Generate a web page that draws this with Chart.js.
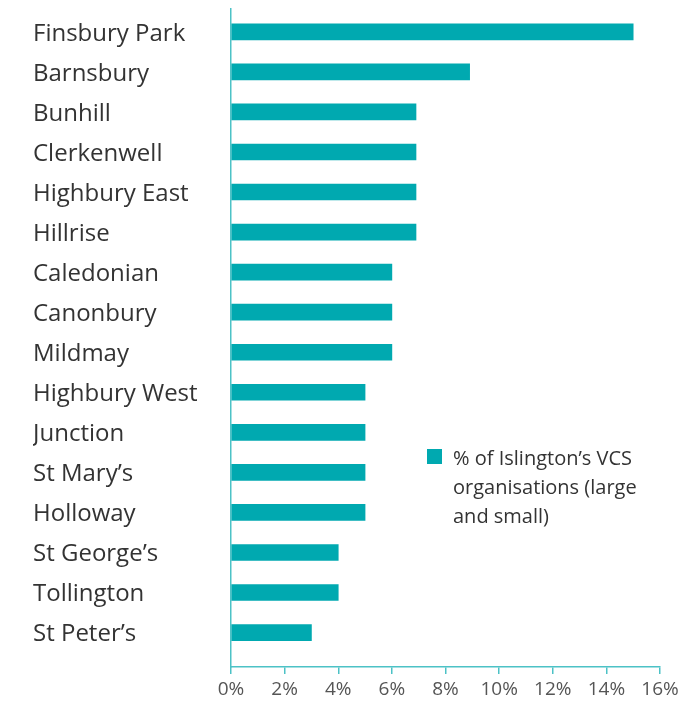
<!DOCTYPE html>
<html>
<head>
<meta charset="utf-8">
<script src="https://cdn.jsdelivr.net/npm/chart.js@4/dist/chart.umd.min.js"></script>
<style>
  body { margin: 0; background: #fff; }
  #wrap { position: relative; width: 680px; height: 702px; }
  #legend { position: absolute; left: 427px; top: 443px; font-family: "Open Sans", sans-serif; font-size: 20px; line-height: 29px; color: #333; }
  #legend .box { position: absolute; left: 0; top: 6px; width: 15px; height: 15px; }
  #legend .txt { margin-left: 26px; }
</style>
</head>
<body>
<div id="wrap">
  <canvas id="myChart" width="680" height="702"></canvas>
  <div id="legend"></div>
</div>
<script>
var wards = ['Finsbury Park', 'Barnsbury', 'Bunhill', 'Clerkenwell', 'Highbury East', 'Hillrise',
    'Caledonian', 'Canonbury', 'Mildmay', 'Highbury West', 'Junction', 'St Mary\u2019s',
    'Holloway', 'St George\u2019s', 'Tollington', 'St Peter\u2019s'];
var share = [15, 8.9, 6.9, 6.9, 6.9, 6.9, 6, 6, 6, 5, 5, 5, 5, 4, 4, 3];
var xTicks = [0, 2, 4, 6, 8, 10, 12, 14, 16];
var seriesLabel = ['% of Islington\u2019s VCS', 'organisations (large', 'and small)'];

var barColor = '#00a9b0';
var axisColor = '#4cc2c6';

// bars sit on a linear y axis so the gap under the last bar can match
var points = share.map(function (v, i) { return { x: v, y: i }; });

var myChart = new Chart(document.getElementById('myChart'), {
    type: 'bar',
    data: {
        datasets: [{
            label: seriesLabel.join(' '),
            data: points,
            backgroundColor: barColor,
            barThickness: 16
        }]
    },
    options: {
        indexAxis: 'y',
        responsive: false,
        animation: false,
        layout: { padding: { left: 33, top: 9, right: 0, bottom: 0 } },
        plugins: { legend: { display: false }, tooltip: { enabled: false } },
        scales: {
            x: {
                type: 'linear',
                min: 0,
                max: 16,
                afterBuildTicks: function (s) { s.ticks = xTicks.map(function (v) { return { value: v }; }); },
                afterFit: function (s) { s.height = 35; s.paddingLeft = 0; s.paddingRight = 20; },
                grid: { drawOnChartArea: false, drawTicks: true, tickLength: 7, color: axisColor, lineWidth: 1.5 },
                border: { display: true, color: axisColor, width: 1.5 },
                ticks: {
                    padding: 4,
                    color: '#555',
                    font: { family: 'Open Sans', size: 19 },
                    callback: function (v) { return v + '%'; }
                }
            },
            y: {
                type: 'linear',
                offset: false,
                reverse: true,
                min: -0.57,
                max: 15.86,
                afterBuildTicks: function (s) { s.ticks = wards.map(function (w, i) { return { value: i }; }); },
                afterFit: function (s) { s.width = 198; s.paddingTop = 0; s.paddingBottom = 0; },
                grid: { display: false, offset: false },
                border: { display: true, color: axisColor, width: 1.5 },
                ticks: {
                    autoSkip: false,
                    crossAlign: 'far',
                    labelOffset: 2,
                    color: '#333',
                    font: { family: 'Open Sans', size: 24 },
                    callback: function (v) { return wards[v]; }
                }
            }
        }
    }
});

// legend drawn as html next to the bars
var lg = document.getElementById('legend');
lg.innerHTML = '<div class="box" style="background:' + barColor + '"></div><div class="txt">' + seriesLabel.join('<br>') + '</div>';
</script>
</body>
</html>
